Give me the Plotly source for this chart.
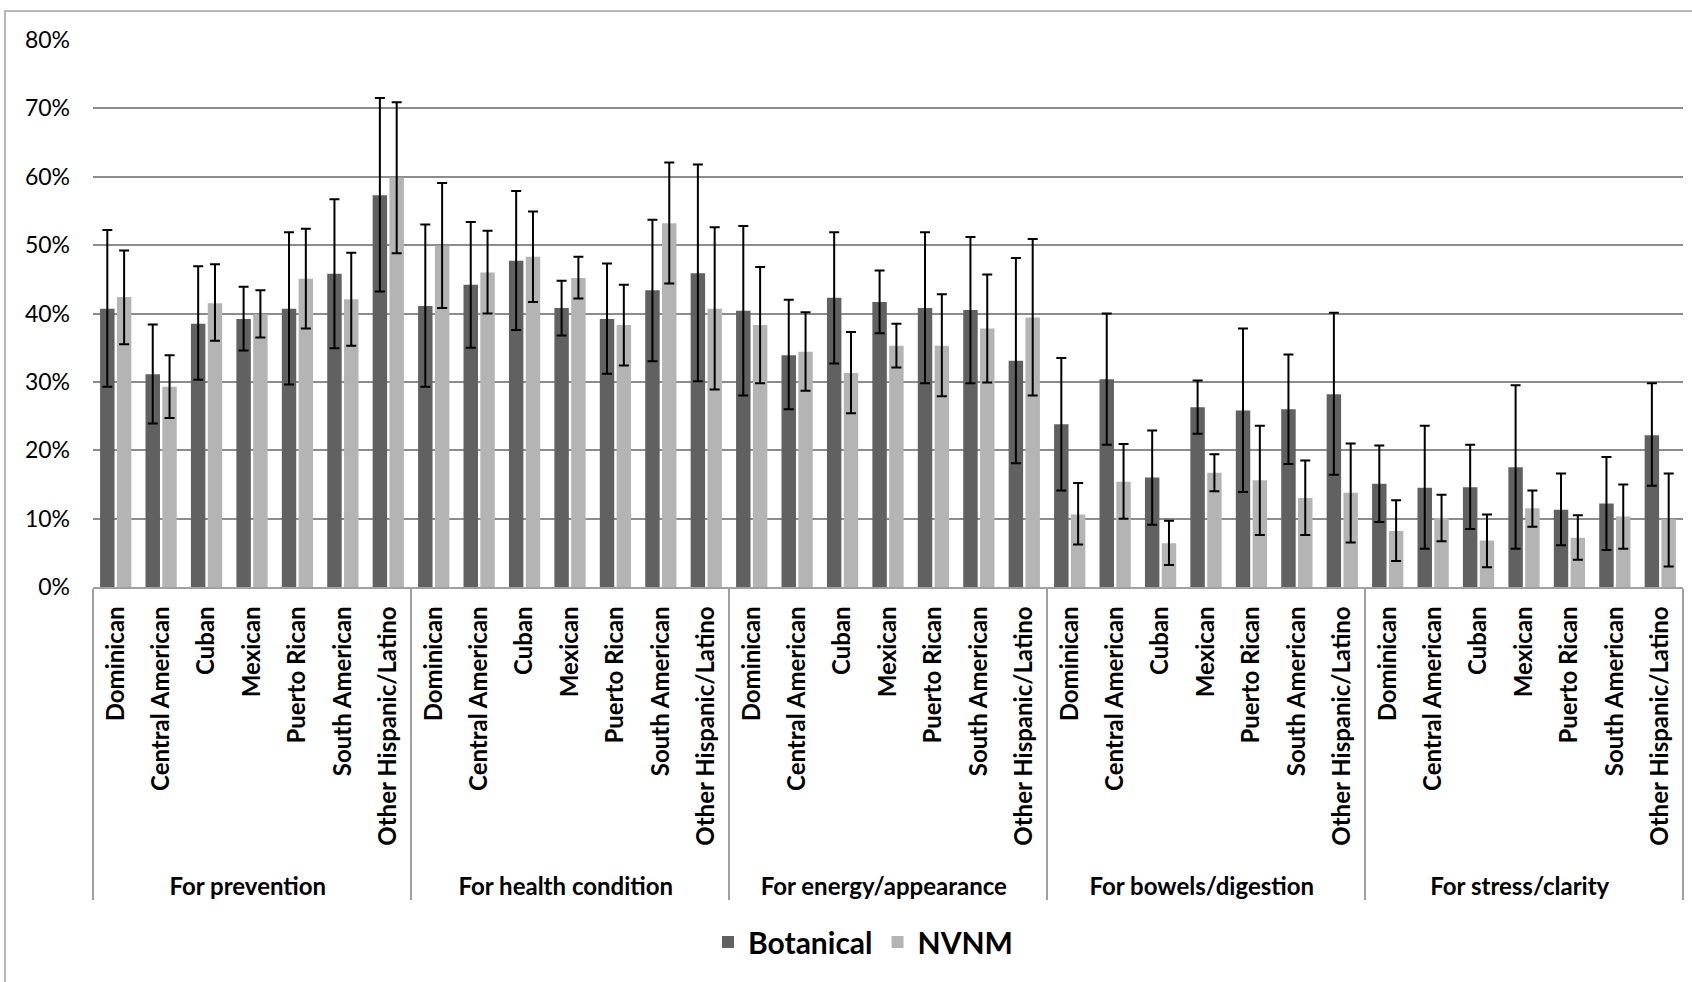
import plotly.graph_objects as go

groups = ["For prevention", "For health condition", "For energy/appearance",
          "For bowels/digestion", "For stress/clarity"]
origins = ["Dominican", "Central American", "Cuban", "Mexican",
           "Puerto Rican", "South American", "Other Hispanic/Latino"]

# Botanical (%), per group, in origin order
bot_val = [40.7, 31.1, 38.5, 39.2, 40.7, 45.8, 57.3,
           41.1, 44.2, 47.7, 40.8, 39.2, 43.4, 45.9,
           40.4, 33.9, 42.3, 41.7, 40.8, 40.5, 33.1,
           23.8, 30.4, 16.0, 26.3, 25.8, 26.0, 28.2,
           15.1, 14.5, 14.6, 17.5, 11.3, 12.2, 22.2]
bot_hi = [52.2, 38.4, 46.9, 43.9, 51.9, 56.7, 71.5,
          53.0, 53.4, 57.9, 44.8, 47.3, 53.7, 61.8,
          52.8, 42.0, 51.9, 46.3, 51.9, 51.2, 48.1,
          33.5, 40.0, 22.9, 30.2, 37.8, 34.0, 40.1,
          20.7, 23.6, 20.8, 29.5, 16.6, 19.0, 29.8]
bot_lo = [29.3, 23.9, 30.3, 34.6, 29.6, 34.9, 43.2,
          29.3, 35.0, 37.6, 36.8, 31.2, 33.0, 30.1,
          28.0, 26.0, 32.7, 37.1, 29.8, 29.8, 18.1,
          14.1, 20.8, 9.1, 22.4, 13.9, 18.0, 16.4,
          9.5, 5.6, 8.5, 5.6, 6.1, 5.4, 14.8]

# NVNM (%)
nv_val = [42.4, 29.3, 41.5, 39.9, 45.1, 42.1, 59.9,
          49.9, 46.0, 48.3, 45.2, 38.3, 53.2, 40.7,
          38.3, 34.4, 31.3, 35.3, 35.3, 37.8, 39.4,
          10.6, 15.4, 6.4, 16.7, 15.6, 13.0, 13.8,
          8.2, 10.1, 6.8, 11.5, 7.2, 10.3, 9.9]
nv_hi = [49.2, 33.9, 47.2, 43.4, 52.4, 48.9, 70.9,
         59.1, 52.1, 54.9, 48.3, 44.2, 62.1, 52.6,
         46.8, 40.2, 37.3, 38.5, 42.8, 45.7, 50.9,
         15.2, 20.9, 9.7, 19.4, 23.6, 18.5, 21.0,
         12.7, 13.5, 10.6, 14.1, 10.5, 15.0, 16.6]
nv_lo = [35.5, 24.7, 36.0, 36.5, 37.8, 35.3, 48.8,
         40.8, 40.0, 41.7, 42.2, 32.4, 44.4, 28.9,
         29.8, 28.7, 25.4, 32.1, 27.9, 29.9, 28.0,
         6.2, 10.0, 3.2, 14.0, 7.6, 7.6, 6.5,
         3.8, 6.7, 2.9, 8.8, 4.0, 5.6, 3.0]

series_names = ["Botanical", "NVNM"]
y_ticks = [0, 10, 20, 30, 40, 50, 60, 70, 80]

# invisible non-breaking padding at the far end of the rotated labels,
# so the group row sits a little lower (as in the reference)
PAD = "\u00a0\u00a0"
x_outer = [g for g in groups for _ in origins]
x_inner = [PAD + o for _ in groups for o in origins]

FONT = "Lato"

def make_bar(name, vals, lo, hi, color):
    return go.Bar(
        name=name,
        x=[x_outer, x_inner],
        y=vals,
        marker=dict(color=color, line=dict(width=0)),
        error_y=dict(
            type="data", symmetric=False,
            array=[h - v for h, v in zip(hi, vals)],
            arrayminus=[v - l for v, l in zip(vals, lo)],
            color="black", thickness=2, width=5,
        ),
    )

fig = go.Figure()
fig.add_trace(make_bar(series_names[0], bot_val, bot_lo, bot_hi, "#616161"))
fig.add_trace(make_bar(series_names[1], nv_val, nv_lo, nv_hi, "#b4b4b4"))

L, R, T, B = 93, 9, 40, 395
W, H = 1692, 982
pw, ph = W - L - R, H - T - B

fig.update_layout(
    width=W, height=H, autosize=False,
    margin=dict(l=L, r=R, t=T, b=B, pad=0),
    paper_bgcolor="white", plot_bgcolor="white",
    barmode="group", bargap=0.26, bargroupgap=0.14,
    font=dict(family=FONT, color="black"),
    legend=dict(
        orientation="h", x=(863 - L) / pw, xanchor="center",
        y=(T + ph - 942) / ph, yanchor="middle",
        font=dict(family=FONT, size=30, weight="bold"),
        itemwidth=30,
    ),
    shapes=[dict(
        type="rect", xref="paper", yref="paper",
        x0=(5 - L) / pw, x1=(W + 5 - L) / pw,
        y0=(T + ph - (H + 5)) / ph, y1=(T + ph - 11) / ph,
        line=dict(color="#a0a0a0", width=1.5), fillcolor="rgba(0,0,0,0)",
        layer="below",
    )],
)

fig.update_yaxes(
    range=[0, 80], tickvals=y_ticks, ticktext=[f"{v}%" for v in y_ticks],
    showgrid=True, gridcolor="#8c8c8c", gridwidth=1.5,
    zeroline=False, showline=False, ticks="",
    tickfont=dict(family=FONT, size=23, color="black"),
    ticklabelstandoff=22,
)
fig.update_xaxes(
    type="multicategory", tickangle=-90,
    showline=True, linecolor="#a0a0a0", linewidth=1.5,
    ticks="", showgrid=False,
    showdividers=True, dividercolor="#a0a0a0", dividerwidth=1.5,
    tickfont=dict(family=FONT, size=24, color="black", weight="bold"),
    ticklabelstandoff=8,
)

fig.write_html(
    "out.html",
    config={"displayModeBar": False},
    post_script="document.body.style.margin='0';document.body.style.overflow='hidden';",
)
